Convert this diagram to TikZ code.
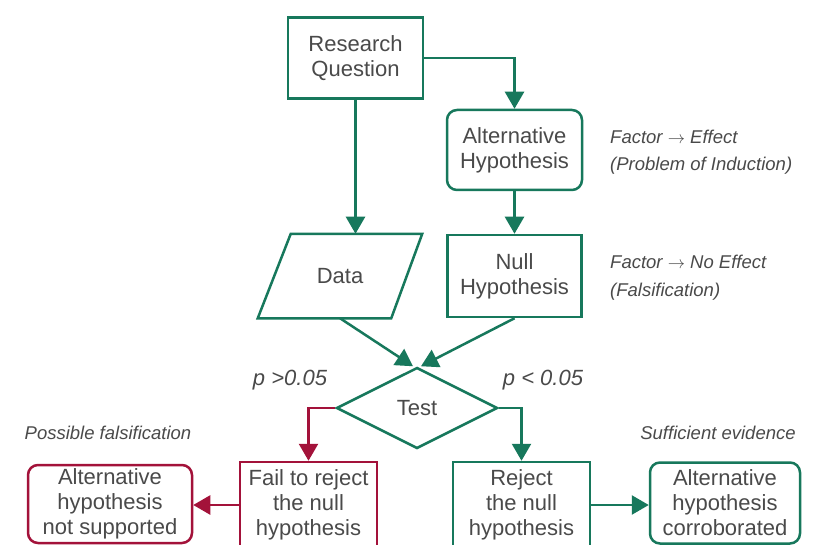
\documentclass[tikz,border=0pt]{standalone}
\usepackage{fontspec}
\setmainfont{Liberation Sans}
\usetikzlibrary{arrows.meta,shapes.geometric,calc}
\definecolor{grn}{HTML}{17785C}
\definecolor{rd}{HTML}{A3123A}
\definecolor{txt}{HTML}{4A4A4A}
\tikzset{
  box/.style={draw=grn, line width=2.5pt, text=txt, align=center, inner sep=0pt,
    font=\fontsize{22}{25}\selectfont},
  rbox/.style={box, rounded corners=10pt},
  redbox/.style={box, draw=rd},
  redrbox/.style={rbox, draw=rd},
  arr/.style={draw=grn, line width=2.5pt, -{Triangle[length=17pt,width=19pt,fill=grn]}},
  redarr/.style={draw=rd, line width=2.5pt, -{Triangle[length=17pt,width=19pt,fill=rd]}},
  lbl/.style={text=txt, inner sep=0pt, font=\fontsize{18.5}{21}\selectfont\itshape},
  plbl/.style={text=txt, inner sep=0pt, font=\fontsize{22}{25}\selectfont\itshape}
}
\newcommand{\myarrow}{ $\rightarrow$ }
\begin{document}
\begin{tikzpicture}[x=1pt,y=-1pt]
\useasboundingbox (0,0) rectangle (818,545);
\clip (0,0) rectangle (818,545);
\fill[white] (0,0) rectangle (818,545);

\node[box, minimum width=135, minimum height=81] (rq) at (355.5,58) {Research\\Question};
\node[rbox, minimum width=135, minimum height=80] (alt) at (514.5,150) {Alternative\\Hypothesis};
\node[box, draw=none, minimum width=130, minimum height=82] (data) at (340,276) {Data};
\draw[draw=grn, line width=2.5pt, line join=miter]
  ($(data.north west)+(17,0)$) -- ($(data.north east)+(16,0)$) --
  ($(data.south east)+(-15,0)$) -- ($(data.south west)+(-16,0)$) -- cycle;
\node[box, minimum width=134, minimum height=82] (null) at (514.5,276) {Null\\Hypothesis};
\node[box, diamond, aspect=2, minimum width=161, minimum height=81] (test) at (417,408) {Test};

\node[redbox, minimum width=137, minimum height=86] (fail) at (308.5,505) {Fail to reject\\the null\\hypothesis};
\node[redrbox, minimum width=164, minimum height=78] (ns) at (110,504) {Alternative\\hypothesis\\not supported};
\node[box, minimum width=137, minimum height=86] (rej) at (521.5,505) {Reject\\the null\\hypothesis};
\node[rbox, minimum width=150, minimum height=81] (cor) at (725,503) {Alternative\\hypothesis\\corroborated};

\draw[arr] (rq.east) -| (alt.north);
\draw[arr] (rq.south) -- (rq.south |- data.north);
\draw[arr] (alt.south) -- (null.north);
\draw[arr] (data.south) -- ($(test.north)+(-4,0)$);
\draw[arr] (null.south) -- ($(test.north)+(4,0)$);
\draw[redarr] (test.west) -| (fail.north);
\draw[arr] (test.east) -| (rej.north);
\draw[redarr] (fail.west) -- (fail.west -| ns.east);
\draw[arr] (rej.east) -- (rej.east -| cor.west);

\node[lbl, anchor=west] (l1) at (610,137) {Factor\myarrow Effect};
\node[lbl, anchor=west] (l2) at (610,166) {(Problem of Induction)};
\node[lbl, anchor=west] (l3) at (610,262) {Factor\myarrow No Effect};
\node[lbl, anchor=west] (l4) at (610,292) {(Falsification)};
\node[plbl] (p1) at (290,380) {p >0.05};
\node[plbl] (p2) at (543,380) {p < 0.05};
\node[lbl] (pf) at (108,433) {Possible falsification};
\node[lbl] (se) at (718,433) {Sufficient evidence};
\end{tikzpicture}
\end{document}
